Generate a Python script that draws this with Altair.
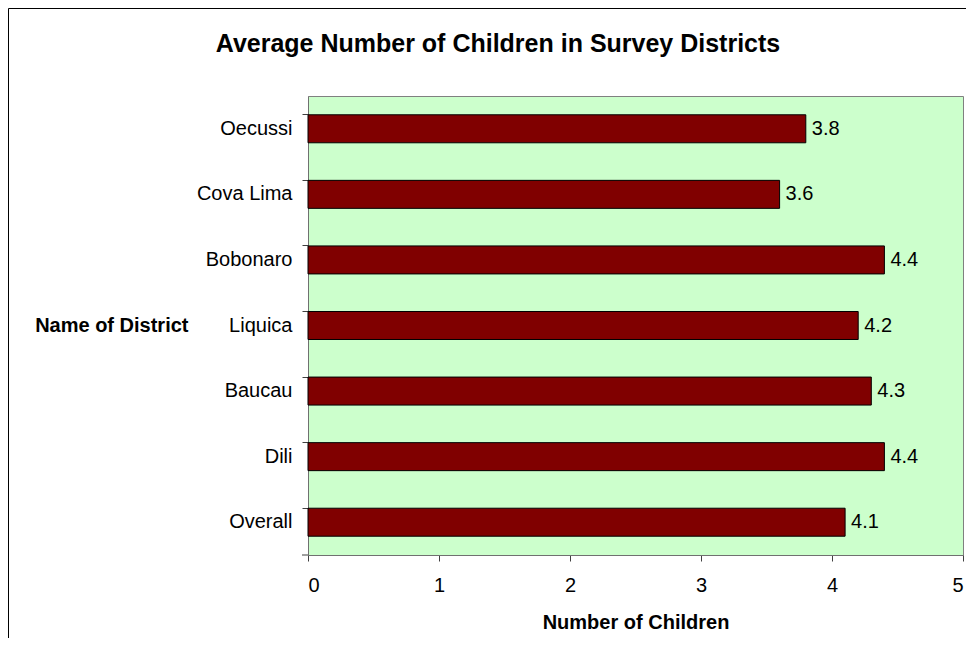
import altair as alt
import pandas as pd

districts = ["Oecussi", "Cova Lima", "Bobonaro", "Liquica", "Baucau", "Dili", "Overall"]
children = [3.8, 3.6, 4.4, 4.2, 4.3, 4.4, 4.1]
x_ticks = [0, 1, 2, 3, 4, 5]
chart_title = "Average Number of Children in Survey Districts"

df = pd.DataFrame({"district": districts, "children": children})

W, H = 655, 459
FONT = "Liberation Sans"

y_enc = alt.Y(
    "district:N",
    sort=districts,
    scale=alt.Scale(paddingInner=0.573, paddingOuter=0.2865),
    axis=alt.Axis(
        title="Name of District",
        titleAngle=0,
        titleAlign="right",
        titleBaseline="middle",
        titleX=-120,
        titleY=H / 2,
        titleFont=FONT,
        titleFontSize=20,
        titleFontWeight="bold",
        titleColor="black",
        labelFont=FONT,
        labelFontSize=20,
        labelColor="black",
        labelPadding=10,
        tickSize=6,
        tickColor="#404040",
        domainColor="#707070",
        bandPosition=0,
        grid=False,
    ),
)

x_enc = alt.X(
    "children:Q",
    scale=alt.Scale(domain=[0, 5], nice=False),
    axis=alt.Axis(
        values=x_ticks,
        format="d",
        title="Number of Children",
        titleFont=FONT,
        titleFontSize=20,
        titleFontWeight="bold",
        titleColor="black",
        titleBaseline="alphabetic",
        titleY=73,
        labelFont=FONT,
        labelFontSize=20,
        labelColor="black",
        labelPadding=14,
        tickSize=6,
        tickColor="#404040",
        domainColor="#707070",
        grid=False,
    ),
)

bars = alt.Chart(df).mark_bar(color="#800000", stroke="black", strokeWidth=1).encode(
    x=x_enc, y=y_enc
)

labels = alt.Chart(df).mark_text(
    align="left", baseline="middle", dx=6, font=FONT, fontSize=20, color="black"
).encode(x="children:Q", y=alt.Y("district:N", sort=districts), text=alt.Text("children:Q", format=".1f"))

one = alt.Data(values=[{"t": chart_title}])
bottom_tick = alt.Chart(one).mark_rule(color="#404040").encode(
    x=alt.value(-6), x2=alt.value(0), y=alt.value(H)
)
frame = alt.Chart(one).mark_rect(filled=False, stroke="black", strokeWidth=1).encode(
    x=alt.value(-299.5), x2=alt.value(W + 200), y=alt.value(-87.5), y2=alt.value(H + 300)
)
title = alt.Chart(one).mark_text(
    align="center", baseline="alphabetic", font=FONT, fontSize=25, fontWeight="bold", color="black"
).encode(x=alt.value(190), y=alt.value(-44), text="t:N")

chart = alt.layer(frame, bars, labels, bottom_tick, title).properties(
    width=W,
    height=H,
    autosize=alt.AutoSizeParams(type="none"),
    padding={"left": 300, "top": 88, "right": 3, "bottom": 83},
    background="white",
).configure_view(fill="#CCFFCC", stroke="#808080", strokeWidth=1)

chart.save("out.html", embed_options={"renderer": "svg", "actions": False})
